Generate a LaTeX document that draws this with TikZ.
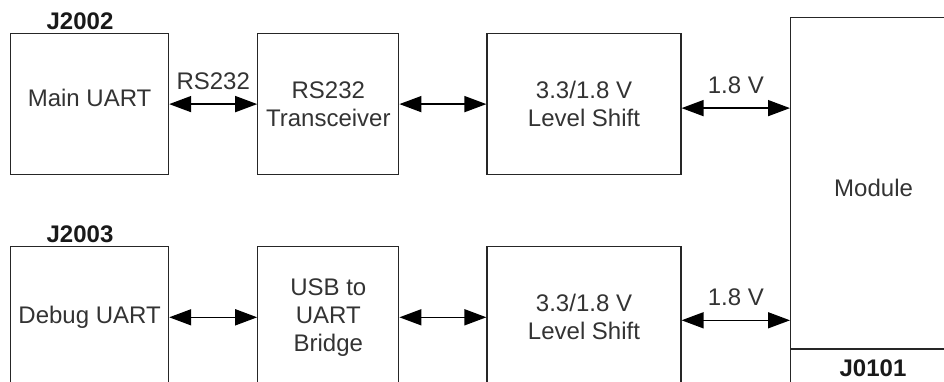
\documentclass[tikz,border=0pt]{standalone}
\usepackage{fontspec}
\setmainfont{Liberation Sans}
\usetikzlibrary{positioning, arrows.meta}
\definecolor{cText}{HTML}{333333}
\tikzset{
  blockbox/.style={
    draw=black!85, line width=0.6pt,
    text=cText,
    align=center,
    inner sep=1pt,
    minimum width=#1,
    minimum height=70.5pt,
    font=\fontsize{12}{14}\selectfont
  },
  blockbox/.default=79pt,
  partlabel/.style={
    font=\fontsize{12}{14}\selectfont\bfseries,
    text=black!90,
    inner sep=0pt
  },
  bus/.style={
    {Triangle[length=11pt,width=8pt]}-{Triangle[length=11pt,width=8pt]},
    line width=0.8pt,
    draw=black
  },
  buslabel/.style={
    font=\fontsize{12}{14}\selectfont,
    text=cText,
    midway,
    above=6pt,
    inner sep=1pt
  }
}

\begin{document}
\begin{tikzpicture}[node distance=35.5pt and 44pt]
  \useasboundingbox (0,0) rectangle (472pt,-190.5pt);
  \clip (0,0) rectangle (472pt,-190.5pt);

  % upper chain: main port
  \node[blockbox, anchor=north west, text depth=6pt] (main) at (5pt,-16.5pt) {Main UART};
  \node[blockbox=70.5pt, right=of main] (xcvr) {RS232\\Transceiver};
  \node[blockbox=97pt, right=43.5pt of xcvr] (shiftA) {3.3/1.8 V\\Level Shift};

  % lower chain: debug port
  \node[blockbox, below=of main] (debug) {Debug UART};
  \node[blockbox=70.5pt, right=of debug] (bridge) {USB to\\UART\\Bridge};
  \node[blockbox=97pt, right=43.5pt of bridge] (shiftB) {3.3/1.8 V\\Level Shift};

  % module with its connector strip
  \node[blockbox=83pt, minimum height=165.5pt, anchor=north west, text height=13.5pt] (module) at (395pt,-8.5pt) {Module};
  \node[blockbox=83pt, minimum height=20pt, below=0pt of module] (conn) {};

  \node[partlabel] (jmain) at (40pt,-10.5pt) {J2002};
  \node[partlabel] (jdebug) at (40pt,-117pt) {J2003};
  \node[partlabel] (jmod) at (436.5pt,-184pt) {J0101};

  \draw[bus] (main) -- node[buslabel]{RS232} (xcvr);
  \draw[bus] (xcvr) -- (shiftA);
  \draw[bus] ([yshift=-2pt]shiftA.east) -- node[buslabel]{1.8 V} ([yshift=-2pt]shiftA.east -| module.west);

  \draw[bus] (debug) -- (bridge);
  \draw[bus] (bridge) -- (shiftB);
  \draw[bus] ([yshift=-1.5pt]shiftB.east) -- node[buslabel]{1.8 V} ([yshift=-1.5pt]shiftB.east -| module.west);
\end{tikzpicture}
\end{document}
